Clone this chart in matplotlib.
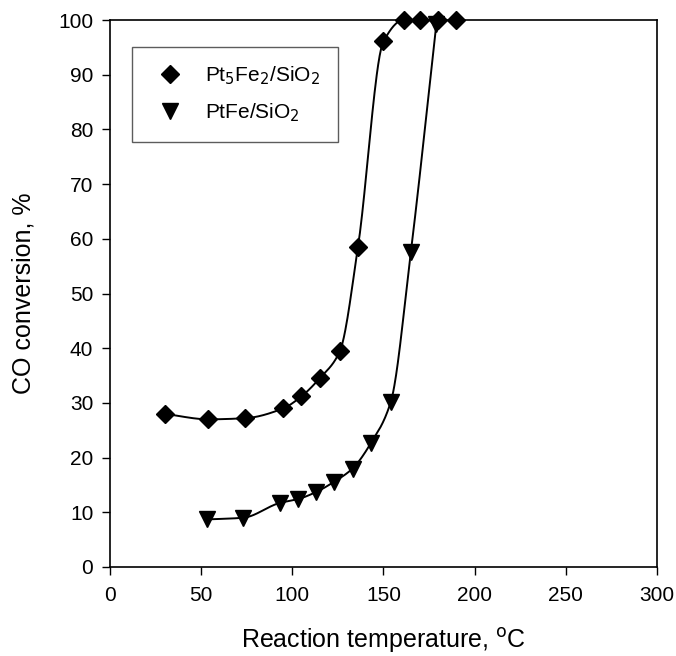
import numpy as np
import matplotlib
matplotlib.use("Agg")
import matplotlib.pyplot as plt

plt.rcParams['font.family'] = ['Liberation Sans', 'DejaVu Sans']

# Pt5Fe2/SiO2 (diamonds)
t_pt5fe2 = [30, 54, 74, 95, 105, 115, 126, 136, 150, 161, 170, 180, 190]
x_pt5fe2 = [28.0, 27.0, 27.2, 29.0, 31.2, 34.5, 39.4, 58.5, 96.1, 100, 100, 100, 100]

# PtFe/SiO2 (triangles)
t_ptfe = [53, 73, 93, 103, 113, 123, 133, 143, 154, 165, 179]
x_ptfe = [8.7, 9.0, 11.7, 12.4, 13.7, 15.6, 18.0, 22.6, 30.2, 57.6, 99.3]


def pchip(x, y, n=400):
    # monotone cubic curve through the points, only for drawing the line
    x = np.asarray(x, float)
    y = np.asarray(y, float)
    h = np.diff(x)
    d = np.diff(y) / h
    m = np.zeros_like(y)
    for k in range(1, len(x) - 1):
        if d[k - 1] * d[k] > 0:
            w1 = 2 * h[k] + h[k - 1]
            w2 = h[k] + 2 * h[k - 1]
            m[k] = (w1 + w2) / (w1 / d[k - 1] + w2 / d[k])
    m[0] = d[0]
    m[-1] = d[-1]
    xs = np.linspace(x[0], x[-1], n)
    idx = np.clip(np.searchsorted(x, xs) - 1, 0, len(h) - 1)
    s = (xs - x[idx]) / h[idx]
    h00 = 2 * s**3 - 3 * s**2 + 1
    h10 = s**3 - 2 * s**2 + s
    h01 = -2 * s**3 + 3 * s**2
    h11 = s**3 - s**2
    ys = h00 * y[idx] + h10 * h[idx] * m[idx] + h01 * y[idx + 1] + h11 * h[idx] * m[idx + 1]
    return xs, ys


fig = plt.figure(figsize=(6.76, 6.56), dpi=100)
ax = fig.add_axes([110 / 676, 89 / 656, 547 / 676, 547 / 656])

xs, ys = pchip(t_pt5fe2, x_pt5fe2)
ax.plot(xs, ys, color='black', lw=1.4)
xs, ys = pchip(t_ptfe, x_ptfe)
ax.plot(xs, ys, color='black', lw=1.4)

ax.plot(t_pt5fe2, x_pt5fe2, 'D', color='black', ms=9.5, ls='none',
        label='Pt$_5$Fe$_2$/SiO$_2$', clip_on=False, zorder=5)
ax.plot(t_ptfe, x_ptfe, 'v', color='black', ms=11, ls='none',
        label='PtFe/SiO$_2$', clip_on=False, zorder=5)

ax.set_xlim(0, 300)
ax.set_ylim(0, 100)
ax.set_xticks(np.arange(0, 301, 50))
ax.set_yticks(np.arange(0, 101, 10))
ax.tick_params(direction='out', length=6, width=1, labelsize=15, pad=6)
ax.tick_params(axis='x', pad=8)
for sp in ax.spines.values():
    sp.set_linewidth(1.2)

ax.set_xlabel('Reaction temperature, $^{\\mathrm{o}}$C', fontsize=18, labelpad=15)
ax.set_ylabel('CO conversion, %', fontsize=18, labelpad=16)

leg = ax.legend(loc='upper left', bbox_to_anchor=(0.0397, 0.951), fontsize=15,
                frameon=True, fancybox=False, edgecolor='#333333',
                borderpad=0.85, handletextpad=0.67, labelspacing=0.7,
                handlelength=2.0, borderaxespad=0)
leg.get_frame().set_linewidth(1.0)

fig.savefig('out.png', dpi=100)
